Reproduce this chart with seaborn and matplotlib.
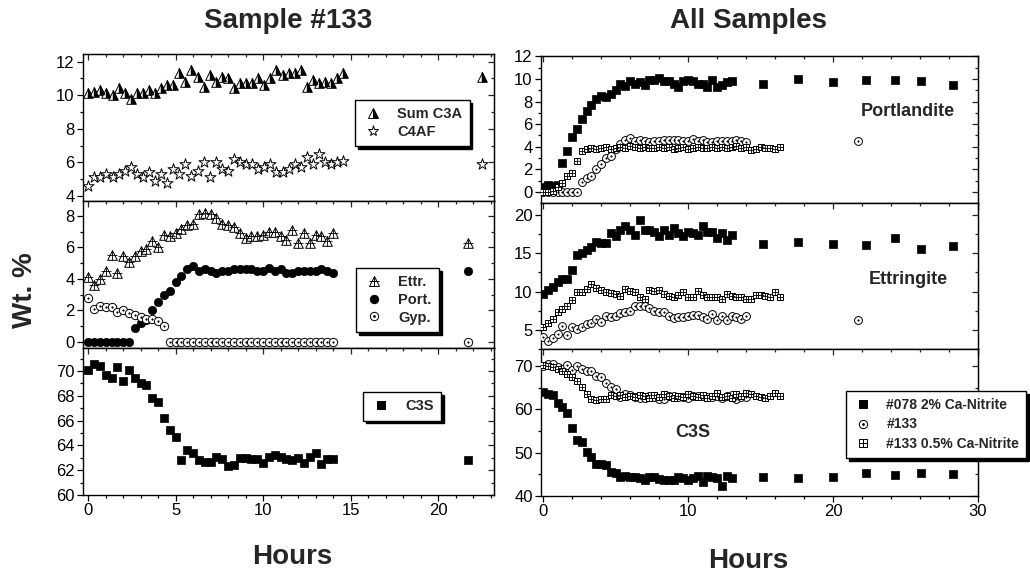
import matplotlib
matplotlib.use('Agg')
import matplotlib.pyplot as plt
import seaborn as sns
from matplotlib.lines import Line2D
from matplotlib.markers import MarkerStyle
from matplotlib.ticker import MultipleLocator

sns.set_style('ticks')
plt.rcParams['font.family'] = ['Liberation Sans', 'DejaVu Sans']

# time grid (every 20 minutes)
hours_grid = [0, 0.33, 0.67, 1, 1.33, 1.67, 2, 2.33, 2.67, 3, 3.33, 3.67, 4, 4.33, 4.67,
              5, 5.33, 5.67, 6, 6.33, 6.67, 7, 7.33, 7.67, 8, 8.33, 8.67, 9, 9.33, 9.67,
              10, 10.33, 10.67, 11, 11.33, 11.67, 12, 12.33, 12.67, 13, 13.33, 13.67,
              14, 14.33, 14.67, 15, 15.33, 15.67, 16, 16.33]

# Sample #133
hours_133 = hours_grid[:43] + [21.7]
hours_133_top = [0, 0.35, 0.69, 1.04, 1.39, 1.74, 2.08, 2.43, 2.78, 3.13, 3.47, 3.82, 4.17,
                 4.51, 4.86, 5.21, 5.56, 5.9, 6.25, 6.6, 6.94, 7.29, 7.64, 7.99, 8.33, 8.68,
                 9.03, 9.38, 9.72, 10.07, 10.42, 10.76, 11.11, 11.46, 11.81, 12.15, 12.5,
                 12.85, 13.2, 13.54, 13.89, 14.24, 14.58, 22.5]
sum_c3a = [10.1, 10.2, 10.3, 10.1, 10.0, 10.4, 10.1, 9.8, 10.1, 10.1,
           10.3, 10.1, 10.4, 10.6, 10.6, 11.3, 10.8, 11.5, 11.1, 10.5,
           11.2, 10.8, 11.1, 11.0, 10.4, 10.7, 10.7, 10.7, 11.0, 10.6,
           11.0, 11.5, 11.2, 11.3, 11.3, 11.5, 10.5, 10.9, 10.7, 10.8,
           10.7, 11.0, 11.3, 11.1]
c4af = [4.6, 5.1, 5.1, 5.3, 5.1, 5.3, 5.5, 5.7, 5.3, 5.1,
        5.4, 4.9, 5.3, 4.8, 5.6, 5.3, 5.9, 5.2, 5.5, 6.0,
        5.1, 6.0, 5.6, 5.5, 6.2, 6.0, 5.9, 5.9, 5.6, 5.7,
        5.9, 5.4, 5.4, 5.6, 5.9, 5.7, 6.3, 5.9, 6.5, 6.0,
        5.9, 6.0, 6.1, 5.9]
ettr_133 = [4.1, 3.6, 4.0, 4.5, 5.5, 4.4, 5.45, 5.1, 5.45, 5.8,
            5.9, 6.4, 6.0, 6.8, 6.7, 6.9, 7.2, 7.4, 7.5, 8.1,
            8.2, 8.1, 7.9, 7.5, 7.4, 7.3, 6.9, 6.6, 6.7, 6.7,
            6.8, 7.0, 7.0, 6.75, 6.5, 7.1, 6.3, 6.9, 6.3, 6.8,
            6.7, 6.4, 6.9, 6.3]
port_133 = [0, 0, 0, 0, 0, 0, 0, 0, 0.9, 1.2,
            1.4, 2.0, 2.5, 3.0, 3.2, 3.8, 4.2, 4.6, 4.8, 4.5,
            4.6, 4.5, 4.4, 4.5, 4.5, 4.6, 4.6, 4.6, 4.6, 4.5,
            4.5, 4.7, 4.5, 4.6, 4.4, 4.4, 4.5, 4.5, 4.5, 4.5,
            4.6, 4.5, 4.4, 4.5]
gyp_133 = [2.75, 2.1, 2.3, 2.2, 2.2, 1.9, 2.0, 1.85, 1.7, 1.55,
           1.45, 1.45, 1.3, 1.0, 0, 0, 0, 0, 0, 0,
           0, 0, 0, 0, 0, 0, 0, 0, 0, 0,
           0, 0, 0, 0, 0, 0, 0, 0, 0, 0,
           0, 0, 0, 0]
c3s_133 = [70.1, 70.6, 70.4, 69.7, 69.4, 70.3, 69.2, 70.1, 69.4, 69.0,
           68.9, 67.8, 67.5, 66.2, 65.2, 64.7, 62.8, 63.6, 63.4, 62.8,
           62.7, 62.7, 63.1, 62.9, 62.3, 62.4, 63.0, 63.0, 62.9, 62.9,
           62.6, 63.1, 63.2, 63.1, 62.9, 62.8, 63.0, 62.6, 63.1, 63.4,
           62.5, 62.9, 62.9, 62.8]

# #078 2% Ca-Nitrite
hours_078 = hours_grid[:40] + [15.2, 17.6, 20.0, 22.3, 24.3, 26.1, 28.3]
port_078 = [0.4, 0.6, 0.5, 0.6, 2.6, 3.6, 4.9, 5.6, 6.5, 7.2,
            7.7, 8.2, 8.5, 8.4, 8.7, 9.0, 9.6, 9.4, 9.8, 9.6,
            9.7, 9.5, 9.9, 9.9, 10.1, 9.8, 9.8, 9.6, 9.3, 9.8,
            9.9, 9.8, 9.6, 9.6, 9.3, 9.9, 9.3, 9.5, 9.7, 9.8,
            9.6, 10.0, 9.7, 9.9, 9.9, 9.8, 9.5]
ettr_078 = [9.7, 10.2, 10.6, 11.3, 11.6, 11.6, 12.8, 14.8, 15.1, 15.4,
            15.8, 16.5, 16.3, 16.3, 17.7, 17.3, 18.0, 18.5, 18.0, 17.4,
            19.3, 18.0, 18.0, 17.8, 17.3, 18.0, 17.4, 18.3, 17.6, 17.2,
            17.8, 17.7, 17.4, 18.5, 17.8, 17.8, 17.0, 17.7, 16.7, 17.4,
            16.2, 16.5, 16.2, 16.1, 17.0, 15.6, 16.0]
c3s_078 = [64.1, 63.5, 63.3, 61.5, 60.5, 59.1, 55.8, 52.9, 52.5, 50.2,
           49.1, 47.4, 47.4, 47.2, 45.6, 45.4, 44.5, 44.6, 44.5, 44.3,
           44.1, 43.7, 44.3, 44.5, 44.0, 43.7, 43.7, 43.8, 44.5, 44.1,
           43.7, 44.1, 44.6, 43.3, 44.6, 44.3, 44.1, 42.3, 44.6, 44.1,
           44.3, 44.1, 44.4, 45.3, 44.8, 45.2, 45.0]

# #133 0.5% Ca-Nitrite
hours_05 = hours_grid
port_05 = [0, 0, 0.1, 0.4, 0.8, 1.4, 1.7, 2.7, 3.6, 3.8,
           3.9, 3.8, 3.9, 4.0, 3.8, 3.9, 4.0, 3.9, 4.1, 4.0,
           3.9, 4.0, 3.9, 3.9, 4.0, 3.9, 4.0, 3.8, 3.9, 4.0,
           3.8, 3.9, 4.0, 3.9, 3.9, 4.0, 3.9, 4.0, 3.9, 4.0,
           4.1, 3.9, 4.0, 3.7, 3.8, 4.0, 3.9, 3.9, 3.8, 4.0]
ettr_05 = [5.4, 5.9, 6.4, 7.4, 7.8, 8.1, 8.9, 9.9, 10.0, 10.3,
           11.0, 10.5, 10.2, 10.0, 9.8, 9.7, 9.4, 10.4, 10.1, 10.0,
           9.3, 9.1, 10.2, 10.1, 10.2, 9.7, 9.4, 9.3, 9.6, 9.9,
           9.3, 9.3, 10.1, 9.6, 9.3, 9.3, 9.3, 9.1, 9.7, 9.4,
           9.3, 9.3, 9.0, 9.0, 9.6, 9.6, 9.4, 9.3, 9.9, 9.3]
c3s_05 = [70.3, 70.0, 69.7, 69.3, 68.8, 68.3, 67.5, 66.5, 65.2, 63.6,
          62.5, 62.2, 62.3, 62.5, 63.3, 63.0, 63.4, 62.9, 63.2, 62.8,
          63.3, 63.0, 62.6, 63.3, 62.9, 63.5, 63.0, 62.7, 63.2, 62.9,
          63.6, 63.0, 62.8, 63.4, 62.6, 63.2, 63.7, 62.9, 63.0, 62.7,
          63.5, 63.1, 63.8, 63.6, 63.0, 62.8, 62.6, 63.1, 63.8, 63.0]

W, H = 1030, 575


def draw(ax, x, y, kind, size):
    k = dict(ax=ax, x=x, y=y, legend=False, zorder=3)
    if kind == 'square':
        sns.scatterplot(**k, marker='s', s=size, color='black', edgecolor='black', linewidth=0.5)
    elif kind == 'dot':
        sns.scatterplot(**k, marker='o', s=size, color='black', edgecolor='black', linewidth=0.5)
    elif kind == 'circle_dot':
        sns.scatterplot(**k, marker='o', s=size, facecolor='white', edgecolor='black', linewidth=0.7)
        sns.scatterplot(**k, marker='o', s=size * 0.04, color='black', edgecolor='black', linewidth=0.3)
    elif kind == 'square_plus':
        sns.scatterplot(**k, marker='s', s=size, facecolor='white', edgecolor='black', linewidth=0.7)
        sns.scatterplot(**k, marker='+', s=size, color='black', linewidth=0.6)
    elif kind == 'tri_plus':
        sns.scatterplot(**k, marker='^', s=size, facecolor='white', edgecolor='black', linewidth=0.7)
        sns.scatterplot(**k, marker='+', s=size * 0.9, color='black', linewidth=0.6)
    elif kind == 'half_tri':
        sns.scatterplot(**k, marker='^', s=size, facecolor='white', edgecolor='black', linewidth=0.7)
        sns.scatterplot(**k, marker=MarkerStyle('^', fillstyle='right'), s=size,
                        color='black', edgecolor='black', linewidth=0.3)
    elif kind == 'star':
        sns.scatterplot(**k, marker='*', s=size, facecolor='white', edgecolor='black', linewidth=0.7)


def handle(kind, ms):
    base = dict(ls='', color='black', markeredgecolor='black', markeredgewidth=0.7)
    if kind == 'square':
        return Line2D([], [], marker='s', markersize=ms, **base)
    if kind == 'dot':
        return Line2D([], [], marker='o', markersize=ms, **base)
    if kind == 'circle_dot':
        return (Line2D([], [], marker='o', markersize=ms, markerfacecolor='white', **base),
                Line2D([], [], marker='o', markersize=ms * 0.2, **base))
    if kind == 'square_plus':
        return (Line2D([], [], marker='s', markersize=ms, markerfacecolor='white', **base),
                Line2D([], [], marker='+', markersize=ms, **base))
    if kind == 'tri_plus':
        return (Line2D([], [], marker='^', markersize=ms, markerfacecolor='white', **base),
                Line2D([], [], marker='+', markersize=ms * 0.95, **base))
    if kind == 'half_tri':
        return Line2D([], [], marker='^', markersize=ms, fillstyle='right',
                      markerfacecoloralt='white', **base)
    if kind == 'star':
        return Line2D([], [], marker='*', markersize=ms, markerfacecolor='white', **base)


def style_axis(ax, xlim, xmaj, xmin, ylim, ymaj, ymin, xlabels):
    ax.set_xlim(*xlim)
    ax.set_ylim(*ylim)
    ax.xaxis.set_major_locator(MultipleLocator(xmaj))
    ax.xaxis.set_minor_locator(MultipleLocator(xmin))
    ax.yaxis.set_major_locator(MultipleLocator(ymaj))
    ax.yaxis.set_minor_locator(MultipleLocator(ymin))
    ax.tick_params(which='both', direction='out', width=0.9, labelsize=12, pad=2,
                   labelbottom=xlabels, colors='black')
    ax.tick_params(which='major', length=4)
    ax.tick_params(which='minor', length=2.2)
    ax.set_xlabel('')
    ax.set_ylabel('')
    for sp in ax.spines.values():
        sp.set_visible(True)
        sp.set_linewidth(1.0)
        sp.set_color('black')
    top = ax.secondary_xaxis('top')
    top.xaxis.set_major_locator(MultipleLocator(xmaj))
    top.xaxis.set_minor_locator(MultipleLocator(xmin))
    top.tick_params(which='both', direction='in', labeltop=False, width=0.9)
    top.tick_params(which='major', length=4)
    top.tick_params(which='minor', length=2.2)
    right = ax.secondary_yaxis('right')
    right.yaxis.set_major_locator(MultipleLocator(ymaj))
    right.yaxis.set_minor_locator(MultipleLocator(ymin))
    right.tick_params(which='both', direction='in', labelright=False, width=0.9)
    right.tick_params(which='major', length=4)
    right.tick_params(which='minor', length=2.2)


def add_legend(ax, kinds, labels, ms, corner, size, spacing=0.25):
    hs = [handle(k, m) for k, m in zip(kinds, ms)]
    leg = ax.legend(hs, labels, loc='upper left',
                    bbox_to_anchor=(corner[0] / W, 1 - corner[1] / H),
                    bbox_transform=ax.figure.transFigure, borderaxespad=0,
                    frameon=True, fancybox=False, framealpha=1, edgecolor='black',
                    shadow={'color': 'black', 'alpha': 1},
                    prop={'weight': 'bold', 'size': size},
                    handlelength=1.4, handletextpad=1.0, labelspacing=spacing,
                    borderpad=0.5)
    leg.get_frame().set_linewidth(1.0)
    return leg


fig = plt.figure(figsize=(W / 100, H / 100), dpi=100)

lx, lw = 83 / W, 411 / W
rx, rw = 541 / W, 437 / W
lh = 147 / H
rh = 146.7 / H
lb = 1 - 495 / H
rb = 1 - 496 / H

ax_l = [fig.add_axes([lx, lb + (2 - i) * lh, lw, lh]) for i in range(3)]
ax_r = [fig.add_axes([rx, rb + (2 - i) * rh, rw, rh]) for i in range(3)]

# ---- left: Sample #133
a = ax_l[0]
draw(a, hours_133_top, sum_c3a, 'half_tri', 48)
draw(a, hours_133_top, c4af, 'star', 70)
style_axis(a, (-0.3, 23.2), 5, 1, (3.7, 12.45), 2, 1, False)
add_legend(a, ['half_tri', 'star'], ['Sum C3A', 'C4AF'], [7, 8], (355, 100), 10.5)

a = ax_l[1]
draw(a, hours_133, ettr_133, 'tri_plus', 48)
draw(a, hours_133, port_133, 'dot', 36)
draw(a, hours_133, gyp_133, 'circle_dot', 36)
style_axis(a, (-0.3, 23.2), 5, 1, (-0.4, 8.95), 2, 1, False)
add_legend(a, ['tri_plus', 'dot', 'circle_dot'], ['Ettr.', 'Port.', 'Gyp.'],
           [7, 6, 6], (356, 268), 10.5)

a = ax_l[2]
draw(a, hours_133, c3s_133, 'square', 28)
style_axis(a, (-0.3, 23.2), 5, 1, (60, 71.85), 2, 1, True)
add_legend(a, ['square'], ['C3S'], [5.5], (363, 392), 10.5)

# ---- right: all samples
panels = [(port_078, port_133, port_05, (-0.95, 12.05), 2, 1),
          (ettr_078, ettr_133, ettr_05, (2.5, 21.6), 5, 2.5),
          (c3s_078, c3s_133, c3s_05, (40, 73.9), 10, 5)]
for i, (y078, y133, y05, ylim, ymaj, ymin) in enumerate(panels):
    a = ax_r[i]
    draw(a, hours_078, y078, 'square', 26)
    draw(a, hours_133, y133, 'circle_dot', 32)
    draw(a, hours_05, y05, 'square_plus', 24)
    style_axis(a, (-0.15, 30), 10, 2, ylim, ymaj, ymin, i == 2)

ax_r[0].text(0.84, 0.618, 'Portlandite', transform=ax_r[0].transAxes,
             ha='center', va='center', fontsize=13, fontweight='bold')
ax_r[1].text(0.84, 0.478, 'Ettringite', transform=ax_r[1].transAxes,
             ha='center', va='center', fontsize=13, fontweight='bold')
ax_r[2].text(0.348, 0.43, 'C3S', transform=ax_r[2].transAxes,
             ha='center', va='center', fontsize=13, fontweight='bold')
add_legend(ax_r[2], ['square', 'circle_dot', 'square_plus'],
           ['#078 2% Ca-Nitrite', '#133', '#133 0.5% Ca-Nitrite'],
           [5.5, 6, 5.5], (846, 391), 10, spacing=0.4)

fig.text(288 / W, 1 - 28 / H, 'Sample #133', ha='center', va='baseline',
         fontsize=20, fontweight='bold')
fig.text(748 / W, 1 - 28 / H, 'All Samples', ha='center', va='baseline',
         fontsize=20, fontweight='bold')
fig.text(25 / W, 1 - 290 / H, 'Wt. %', ha='center', va='center', rotation=90,
         fontsize=20, fontweight='bold')
fig.text(292 / W, 1 - 564 / H, 'Hours', ha='center', va='baseline',
         fontsize=20, fontweight='bold')
fig.text(748 / W, 1 - 568 / H, 'Hours', ha='center', va='baseline',
         fontsize=20, fontweight='bold')

fig.savefig('out.png', dpi=100)
